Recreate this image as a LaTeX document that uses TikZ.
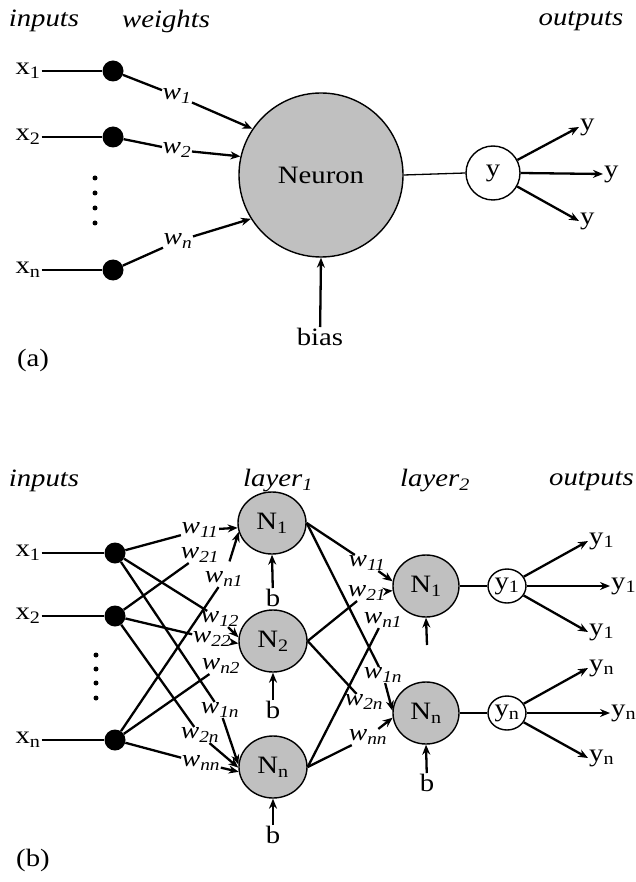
\documentclass[tikz,border=0pt]{standalone}
\usepackage{fontspec}
\setmainfont{Liberation Serif}[FakeStretch=1.15]
\usetikzlibrary{arrows.meta,shapes.geometric}
\definecolor{nfill}{RGB}{192,192,192}
\begin{document}
\begin{tikzpicture}[x=1pt,y=-1pt,
  every node/.style={font=\fontsize{25}{29}\selectfont, inner sep=1pt},
  wlab/.style={font=\fontsize{24}{28}\selectfont\itshape, inner sep=0.5pt},
  bigdot/.style={circle, fill=black, minimum size=21pt, inner sep=0pt},
  smalldot/.style={circle, fill=black, minimum size=5pt, inner sep=0pt},
  neur/.style={ellipse, draw, fill=nfill, line width=1.4pt, inner sep=0pt},
  outc/.style={ellipse, draw, fill=white, line width=1.4pt, inner sep=0pt},
  thinln/.style={line width=1.3pt},
  wline/.style={line width=2.3pt},
  warr/.style={line width=2.3pt, -{Stealth[length=10pt,width=8pt]}},
]
\path[use as bounding box] (0,0) rectangle (635,882);
\clip (0,0) rectangle (635,882);

% ---------------- (a) ----------------
\node (ain) at (44,21) {\textit{inputs}};
\node (awt) at (166,21) {\textit{weights}};
\node (aout) at (581,21) {\textit{outputs}};
\node (ax1) at (28,71) {x\textsubscript{1}};
\node (ax2) at (28,137) {x\textsubscript{2}};
\node (axn) at (28,270) {x\textsubscript{n}};
\node[bigdot] (ad1) at (113,71) {};
\node[bigdot] (ad2) at (113,137) {};
\node[bigdot] (adn) at (113,270) {};
\foreach \yy in {178,193,208,223} \node[smalldot] (av\yy) at (95,\yy) {};
\node[neur, minimum width=164pt, minimum height=164pt] (neuron) at (321,175) {Neuron};
\node[wlab] (aw1) at (177,96) {w\textsubscript{1}};
\node[wlab] (aw2) at (177,150) {w\textsubscript{2}};
\node[wlab] (awn) at (178,241) {w\textsubscript{n}};
\node[outc, minimum size=54pt] (ay) at (493,173) {y};
\node[anchor=west] (ayu) at (579,127) {y};
\node[anchor=west] (aym) at (603,174) {y};
\node[anchor=west] (ayl) at (579,221) {y};
\node (abias) at (320,337) {bias};
\node (alab) at (33,360) {(a)};

\draw[thinln] (ax1) -- (ad1);
\draw[thinln] (ax2) -- (ad2);
\draw[thinln] (axn) -- (adn);
\draw[wline] (ad1) -- (aw1);
\draw[wline] (ad2) -- (aw2);
\draw[wline] (adn) -- (awn);
\draw[warr] (aw1) -- (neuron.146);
\draw[warr] (aw2) -- (neuron.167);
\draw[warr] (awn) -- (neuron.212);
\draw[thinln] (neuron.east) -- (ay.west);
\draw[warr] (ay) -- (ayu.west);
\draw[warr] (ay.east) -- (aym.west);
\draw[warr] (ay) -- (ayl.west);
\draw[warr] (abias) -- (neuron.south);

% ---------------- (b) ----------------
\node (bin) at (44,481) {\textit{inputs}};
\node (bl1) at (278,481) {\textit{layer\textsubscript{1}}};
\node (bl2) at (435,481) {\textit{layer\textsubscript{2}}};
\node[anchor=east] (bout) at (635,481) {\textit{outputs}};
\node (bx1) at (28,553) {x\textsubscript{1}};
\node (bx2) at (28,616) {x\textsubscript{2}};
\node (bxn) at (28,740) {x\textsubscript{n}};
\node[bigdot] (bd1) at (115,553) {};
\node[bigdot] (bd2) at (115,616) {};
\node[bigdot] (bdn) at (115,740) {};
\foreach \yy in {655,669,683,698} \node[smalldot] (bv\yy) at (96,\yy) {};

\node[neur, minimum width=68pt, minimum height=62pt] (N1) at (272,523) {N\textsubscript{1}};
\node[neur, minimum width=68pt, minimum height=62pt] (N2) at (273,641) {N\textsubscript{2}};
\node[neur, minimum width=68pt, minimum height=62pt] (Nn) at (273,767) {N\textsubscript{n}};
\node (bb1) at (273,598) {b};
\node (bb2) at (273,710) {b};
\node (bbn) at (273,835) {b};
\node[neur, minimum width=66pt, minimum height=62pt] (M1) at (426,586) {N\textsubscript{1}};
\node[neur, minimum width=66pt, minimum height=62pt] (Mn) at (426,713) {N\textsubscript{n}};
\coordinate (mb1) at (427,645);
\node (mbn) at (427,783) {b};
\node[outc, minimum width=38pt, minimum height=34pt] (o1) at (507,586) {y\textsubscript{1}};
\node[outc, minimum width=38pt, minimum height=34pt] (on) at (507,713) {y\textsubscript{n}};
\node[anchor=west] (o1u) at (588,541) {y\textsubscript{1}};
\node[anchor=west] (o1m) at (610,586) {y\textsubscript{1}};
\node[anchor=west] (o1l) at (588,632) {y\textsubscript{1}};
\node[anchor=west] (onu) at (588,668) {y\textsubscript{n}};
\node[anchor=west] (onm) at (610,713) {y\textsubscript{n}};
\node[anchor=west] (onl) at (588,758) {y\textsubscript{n}};

% layer 1 weight labels
\node[wlab] (la11) at (200,530) {w\textsubscript{11}};
\node[wlab] (la21) at (200,555) {w\textsubscript{21}};
\node[wlab] (lan1) at (224,579) {w\textsubscript{n1}};
\node[wlab] (la12) at (220,619) {w\textsubscript{12}};
\node[wlab] (la22) at (212,639) {w\textsubscript{22}};
\node[wlab] (lan2) at (221,666) {w\textsubscript{n2}};
\node[wlab] (la1n) at (220,710) {w\textsubscript{1n}};
\node[wlab] (la2n) at (200,735) {w\textsubscript{2n}};
\node[wlab] (lann) at (201,763) {w\textsubscript{nn}};
% layer 2 weight labels
\node[wlab] (lb11) at (367,563) {w\textsubscript{11}};
\node[wlab] (lb21) at (367,593) {w\textsubscript{21}};
\node[wlab] (lbn1) at (383,620) {w\textsubscript{n1}};
\node[wlab] (lb1n) at (383,675) {w\textsubscript{1n}};
\node[wlab] (lb2n) at (364,702) {w\textsubscript{2n}};
\node[wlab] (lbnn) at (368,737) {w\textsubscript{nn}};

\draw[thinln] (bx1) -- (bd1);
\draw[thinln] (bx2) -- (bd2);
\draw[thinln] (bxn) -- (bdn);
% inputs to labels
\draw[wline] (bd1) -- (la11);
\draw[wline] (bd2) -- (la21);
\draw[wline] (bdn) -- (lan1);
\draw[wline] (bd1) -- (la12);
\draw[wline] (bd2) -- (la22);
\draw[wline] (bdn) -- (lan2);
\draw[wline] (bd1) -- (la1n);
\draw[wline] (bd2) -- (la2n);
\draw[wline] (bdn) -- (lann);
% labels to layer 1
\draw[warr] (la11) -- (N1.188);
\draw[warr, shorten <=10pt] (lan1) -- (N1.195);
\draw[warr] (la12) -- (N2.174);
\draw[warr] (la22) -- (N2.184);
\draw[warr] (la1n) -- (Nn.176);
\draw[warr] (la2n) -- (Nn.181);
\draw[warr] (lann) -- (Nn.188);
\draw[warr] (bb1) -- (N1.south);
\draw[warr] (bb2) -- (N2.south);
\draw[warr] (bbn) -- (Nn.south);
% layer 1 to labels
\draw[wline] (N1.east) -- (lb11);
\draw[wline] (N1.east) -- (lb1n);
\draw[wline] (N2.east) -- (lb21);
\draw[wline] (N2.east) -- (lb2n);
\draw[wline] (Nn.east) -- (lbn1);
\draw[wline] (Nn.east) -- (lbnn);
% labels to layer 2
\draw[warr] (lb11) -- (M1.172);
\draw[warr] (lb21) -- (M1.188);
\draw[warr] (lb1n) -- (Mn.176);
\draw[warr] (lbnn) -- (Mn.188);
\draw[warr] (mb1) -- (M1.south);
\draw[warr] (mbn) -- (Mn.south);
% outputs
\draw[thinln] (M1.east) -- (o1.west);
\draw[thinln] (Mn.east) -- (on.west);
\draw[warr] (o1) -- (o1u.west);
\draw[warr] (o1.east) -- (o1m.west);
\draw[warr] (o1) -- (o1l.west);
\draw[warr] (on) -- (onu.west);
\draw[warr] (on.east) -- (onm.west);
\draw[warr] (on) -- (onl.west);
\node (blab) at (33,860) {(b)};
\end{tikzpicture}
\end{document}
